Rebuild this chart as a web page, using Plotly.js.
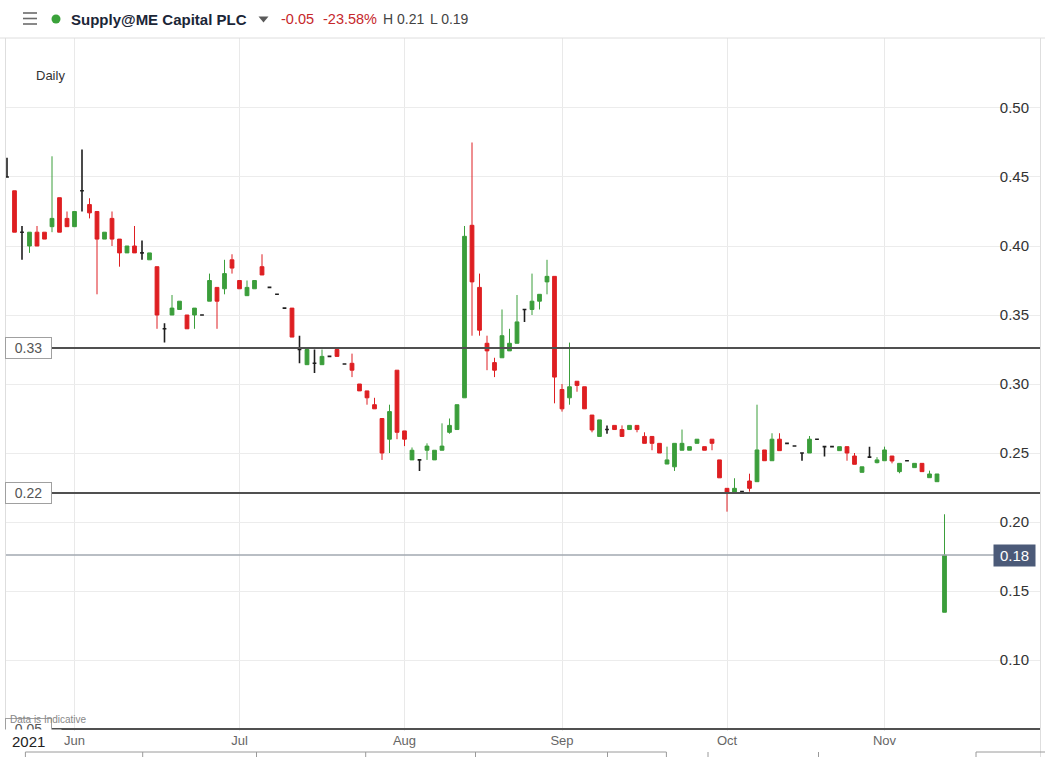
<!DOCTYPE html>
<html><head><meta charset="utf-8">
<script src="https://cdn.plot.ly/plotly-3.0.1.min.js"></script>
<style>html,body{margin:0;padding:0;background:#fff;overflow:hidden}#chart{width:1045px;height:757px}</style>
</head><body><div id="chart"></div>
<script>
// ---- data (trading days) ----
const dates = [
'2021-05-18','2021-05-19','2021-05-20','2021-05-21','2021-05-24','2021-05-25','2021-05-26','2021-05-27','2021-05-28',
'2021-06-01','2021-06-02','2021-06-03','2021-06-04','2021-06-07','2021-06-08','2021-06-09','2021-06-10','2021-06-11','2021-06-14','2021-06-15','2021-06-16','2021-06-17','2021-06-18','2021-06-21','2021-06-22','2021-06-23','2021-06-24','2021-06-25','2021-06-28','2021-06-29','2021-06-30',
'2021-07-01','2021-07-02','2021-07-05','2021-07-06','2021-07-07','2021-07-08','2021-07-09','2021-07-12','2021-07-13','2021-07-14','2021-07-15','2021-07-16','2021-07-19','2021-07-20','2021-07-21','2021-07-22','2021-07-23','2021-07-26','2021-07-27','2021-07-28','2021-07-29','2021-07-30',
'2021-08-02','2021-08-03','2021-08-04','2021-08-05','2021-08-06','2021-08-09','2021-08-10','2021-08-11','2021-08-12','2021-08-13','2021-08-16','2021-08-17','2021-08-18','2021-08-19','2021-08-20','2021-08-23','2021-08-24','2021-08-25','2021-08-26','2021-08-27','2021-08-31',
'2021-09-01','2021-09-02','2021-09-03','2021-09-06','2021-09-07','2021-09-08','2021-09-09','2021-09-10','2021-09-13','2021-09-14','2021-09-15','2021-09-16','2021-09-17','2021-09-20','2021-09-21','2021-09-22','2021-09-23','2021-09-24','2021-09-27','2021-09-28','2021-09-29','2021-09-30',
'2021-10-01','2021-10-04','2021-10-05','2021-10-06','2021-10-07','2021-10-08','2021-10-11','2021-10-12','2021-10-13','2021-10-14','2021-10-15','2021-10-18','2021-10-19','2021-10-20','2021-10-21','2021-10-22','2021-10-25','2021-10-26','2021-10-27','2021-10-28','2021-10-29',
'2021-11-01','2021-11-02','2021-11-03','2021-11-04','2021-11-05','2021-11-08','2021-11-09','2021-11-10','2021-11-11'
];
const open = [
.45,.44,.41,.40,.41,.41,.414,.435,.42,.414,
.44,.43,.425,.405,.42,.405,.395,.40,.395,.39,
.385,.34,.35,.354,.35,.35,.35,.36,.37,.369,
.39,.375,.364,.369,.385,.37,.365,.355,.355,.325,
.314,.315,.314,.32,.325,.3145,.315,.30,.295,.285,
.275,.26,.31,.266,.245,.245,.252,.245,.252,.265,
.267,.29,.415,.37,.3295,.3155,.319,.324,.3295,.354,
.354,.36,.374,.378,.296,.29,.302,.298,.2775,.262,
.267,.27,.267,.267,.27,.262,.262,.257,.242,.24,
.252,.252,.257,.2546,.26,.245,.2244,.2215,.222,.2297,
.2292,.2522,.2444,.26,.257,.2551,.25,.25,.26,.2546,
.2546,.2517,.2546,.2478,.236,.247,.243,.2444,.2478,.2365,
.2444,.2394,.2425,.2321,.2292,.1346];
const high = [
.464,.44,.4145,.41,.4145,.41,.465,.435,.425,.425,
.47,.4346,.425,.41,.425,.405,.40,.4145,.404,.395,
.385,.344,.3645,.36,.35,.355,.35,.38,.37,.39,
.394,.375,.375,.375,.394,.37,.365,.355,.355,.335,
.325,.325,.325,.32,.325,.3145,.322,.30,.295,.29,
.275,.285,.31,.266,.254,.245,.257,.252,.2715,.275,
.285,.4145,.475,.38,.335,.319,.354,.34,.3645,.354,
.38,.365,.39,.378,.30,.33,.302,.298,.2775,.274,
.27,.27,.27,.27,.27,.265,.262,.257,.2546,.257,
.267,.2546,.26,.2546,.26,.245,.2244,.2317,.222,.235,
.285,.2522,.2643,.2643,.257,.2551,.25,.2623,.26,.2546,
.2546,.2546,.2546,.25,.24,.2546,.247,.2546,.2478,.2425,
.2444,.2425,.2425,.2372,.2348,.2056];
const low = [
.45,.41,.39,.395,.40,.405,.41,.41,.414,.414,
.425,.42,.365,.405,.40,.385,.395,.395,.39,.39,
.34,.33,.35,.354,.34,.34,.35,.36,.34,.365,
.38,.369,.364,.369,.379,.37,.365,.355,.334,.315,
.314,.308,.314,.32,.32,.3145,.305,.295,.285,.282,
.245,.25,.26,.255,.245,.237,.245,.245,.252,.264,
.267,.29,.335,.335,.31,.305,.319,.324,.3295,.345,
.35,.354,.365,.286,.28,.285,.2944,.282,.265,.262,
.264,.267,.262,.267,.265,.257,.252,.25,.242,.237,
.252,.252,.257,.252,.252,.232,.2075,.2215,.222,.222,
.2292,.2444,.2444,.2517,.257,.2551,.2444,.25,.26,.2474,
.2546,.2517,.2444,.2418,.236,.247,.2425,.2444,.2425,.2353,
.2444,.2394,.2365,.2321,.2292,.1346];
const close = [
.45,.41,.41,.41,.40,.405,.42,.41,.414,.425,
.44,.424,.405,.41,.405,.395,.40,.395,.395,.395,
.35,.34,.355,.36,.34,.355,.35,.375,.36,.38,
.384,.369,.37,.375,.379,.37,.365,.355,.334,.325,
.325,.315,.32,.32,.32,.3145,.31,.295,.29,.282,
.25,.28,.265,.26,.252,.245,.255,.252,.255,.27,
.285,.407,.374,.339,.324,.31,.335,.3295,.345,.354,
.36,.365,.378,.305,.282,.298,.299,.282,.2667,.274,
.267,.267,.262,.27,.267,.257,.257,.25,.245,.257,
.257,.2546,.26,.252,.257,.232,.2215,.2244,.222,.2244,
.2522,.2444,.26,.2517,.257,.2551,.25,.26,.26,.2546,
.2546,.2546,.25,.2418,.24,.247,.245,.2522,.2442,.2425,
.2444,.2425,.2365,.2348,.2348,.176];

const monthTickDates = ['2021-06-01','2021-07-01','2021-08-02','2021-09-01','2021-10-01','2021-11-01'];
const monthTickLabels = ['Jun','Jul','Aug','Sep','Oct','Nov'];
const yTicks = [0.10,0.15,0.20,0.25,0.30,0.35,0.40,0.45,0.50];
const levelValues = [0.326, 0.221, 0.05];
const levelLabels = ['0.33','0.22','0.05'];
const lastPrice = 0.176;
const lastPriceLabel = '0.18';
const headerName = 'Supply@ME Capital PLC';
const headerChange = '-0.05';
const headerPct = '-23.58%';
const headerHigh = 'H 0.21';
const headerLow = 'L 0.19';

// ---- build traces ----
const GREEN = '#3b9e3b', RED = '#de1f22', DOJI = '#1e1e1e';
const col = {x:[],open:[],high:[],low:[],close:[]};
const flat = {x:[],open:[],high:[],low:[],close:[]};
dates.forEach((d,i)=>{
  const t = (open[i]===close[i]) ? flat : col;
  t.x.push(d); t.open.push(open[i]); t.high.push(high[i]); t.low.push(low[i]); t.close.push(close[i]);
});
const traces = [
  Object.assign({type:'candlestick', hoverinfo:'skip', showlegend:false,
    increasing:{line:{color:GREEN,width:1},fillcolor:GREEN},
    decreasing:{line:{color:RED,width:1},fillcolor:RED}}, col),
  Object.assign({type:'candlestick', hoverinfo:'skip', showlegend:false,
    increasing:{line:{color:DOJI,width:1.6},fillcolor:DOJI},
    decreasing:{line:{color:DOJI,width:1.6},fillcolor:DOJI}}, flat)
];

// ---- geometry helpers (pixel -> paper) ----
const L=6, R=1040, T=38, B=731;
const px = x => (x-L)/(R-L);
const py = y => (B-y)/(B-T);
const hline = (x0,x1,y,color,w) => ({type:'line',xref:'paper',yref:'paper',x0:px(x0),x1:px(x1),y0:py(y),y1:py(y),line:{color:color,width:w},layer:'above'});
const vline = (x,y0,y1,color,w) => ({type:'line',xref:'paper',yref:'paper',x0:px(x),x1:px(x),y0:py(y0),y1:py(y1),line:{color:color,width:w},layer:'above'});

const shapes = [];
// white column behind y labels (interrupts gridlines)
shapes.push({type:'rect',xref:'paper',yref:'paper',x0:px(996),x1:px(1034),y0:0,y1:1,fillcolor:'#ffffff',line:{width:0},layer:'between'});
// frame
shapes.push(hline(0,1045,38,'#dedede',1));
shapes.push(vline(5.5,38,748,'#dedede',1));
shapes.push(vline(1040.5,38,757,'#dedede',1));
// level lines
levelValues.forEach(v=>{
  shapes.push({type:'line',xref:'paper',yref:'y',x0:px(52),x1:1,y0:v,y1:v,line:{color:'#505050',width:2},layer:'above'});
});
// last price line
shapes.push({type:'line',xref:'paper',yref:'y',x0:0,x1:px(994),y0:lastPrice,y1:lastPrice,line:{color:'#a2a9b1',width:1.5},layer:'above'});
// header icons
[13,18.5,24].forEach(y=>shapes.push(hline(23,37,y,'#6b6b6b',1.6)));
shapes.push({type:'circle',xref:'paper',yref:'paper',x0:px(51.5),x1:px(60.5),y0:py(23.5),y1:py(14.5),fillcolor:'#3aa23a',line:{width:0}});
shapes.push({type:'path',xref:'paper',yref:'paper',path:`M ${px(258.5)} ${py(16.5)} L ${px(268.5)} ${py(16.5)} L ${px(263.5)} ${py(22.5)} Z`,fillcolor:'#5a5a5a',line:{width:0}});
// bottom navigator strip
shapes.push(hline(25.4,666.4,752,'#9a9a9a',1));
[25.4,142.7,256.5,365.7,475.5,607.5,666.4,708,818.5,976].forEach(x=>shapes.push(vline(x,752,757,'#9a9a9a',1)));
shapes.push(hline(976,1045,752,'#9a9a9a',1));

const ann = [];
const A = (x,y,text,opts) => Object.assign({xref:'paper',yref:'paper',x:px(x),y:py(y),text:text,showarrow:false,xanchor:'left',yanchor:'middle'},opts||{});
ann.push(A(69,19,'<b>'+headerName+'</b>',{font:{family:'Liberation Sans, Arial',size:15,color:'#1b2637'}}));
ann.push(A(279,19,headerChange,{font:{family:'Liberation Sans, Arial',size:14.5,color:'#c6282b'}}));
ann.push(A(321,19,headerPct,{font:{family:'Liberation Sans, Arial',size:14.5,color:'#c6282b'}}));
ann.push(A(381,19,headerHigh,{font:{family:'Liberation Sans, Arial',size:14,color:'#444'}}));
ann.push(A(428,19,headerLow,{font:{family:'Liberation Sans, Arial',size:14,color:'#444'}}));
ann.push(A(34,75,'Daily',{font:{family:'Liberation Sans, Arial',size:13,color:'#333'}}));
// level label boxes (0.33 and 0.22 fully, 0.05 clipped at the pane bottom)
levelValues.forEach((v,i)=>{
  ann.push({xref:'paper',yref:'y',x:px(28.5),y:v,text:levelLabels[i],showarrow:false,xanchor:'center',yanchor:'middle',
    bgcolor:'#ffffff',bordercolor:'#a0a0a0',borderwidth:1,borderpad:0,width:45,height:20,
    font:{family:'Liberation Sans, Arial',size:14,color:'#555'}});
});
// blank white patch hiding the lower half of the clipped 0.05 box
ann.push(A(0,740,' ',{bgcolor:'#ffffff',width:60,height:20,borderpad:0,xanchor:'left'}));
ann.push(A(8,719,'Data is Indicative',{font:{family:'Liberation Sans, Arial',size:10,color:'#888'}}));
ann.push(A(10,741,'2021',{font:{family:'Liberation Sans, Arial',size:15,color:'#222'}}));
// last price label
ann.push({xref:'paper',yref:'y',x:px(1014.5),y:lastPrice,text:lastPriceLabel,showarrow:false,xanchor:'center',yanchor:'middle',
  bgcolor:'#4b5a78',borderpad:0,width:41,height:21,font:{family:'Liberation Sans, Arial',size:15,color:'#ffffff'}});

const layout = {
  width:1045, height:757,
  margin:{l:L, r:1045-R, t:T, b:757-B, pad:0},
  paper_bgcolor:'#ffffff', plot_bgcolor:'#ffffff',
  font:{family:'Liberation Sans, Arial, sans-serif'},
  showlegend:false, boxgap:0.28, dragmode:false,
  xaxis:{type:'category', categoryorder:'array', categoryarray:dates,
    range:[-0.133, -0.133 + (R-L)/7.5],
    tickvals:monthTickDates, ticktext:monthTickLabels,
    showgrid:true, gridcolor:'#e9e9e9', gridwidth:1, zeroline:false, showline:false, ticks:'',
    tickfont:{family:'Liberation Sans, Arial', size:13, color:'#666'},
    rangeslider:{visible:false}, fixedrange:true},
  yaxis:{side:'right', range:[0.04855, 0.55072], tickvals:yTicks, ticktext:yTicks.map(v=>v.toFixed(2)),
    ticklabelposition:'inside', ticklabelstandoff:8,
    showgrid:true, gridcolor:'#ececec', gridwidth:1, zeroline:false, showline:false, ticks:'',
    tickfont:{family:'Liberation Sans, Arial', size:15, color:'#333'}, fixedrange:true},
  shapes:shapes, annotations:ann
};
Plotly.newPlot('chart', traces, layout, {displayModeBar:false, staticPlot:true});
</script></body></html>
